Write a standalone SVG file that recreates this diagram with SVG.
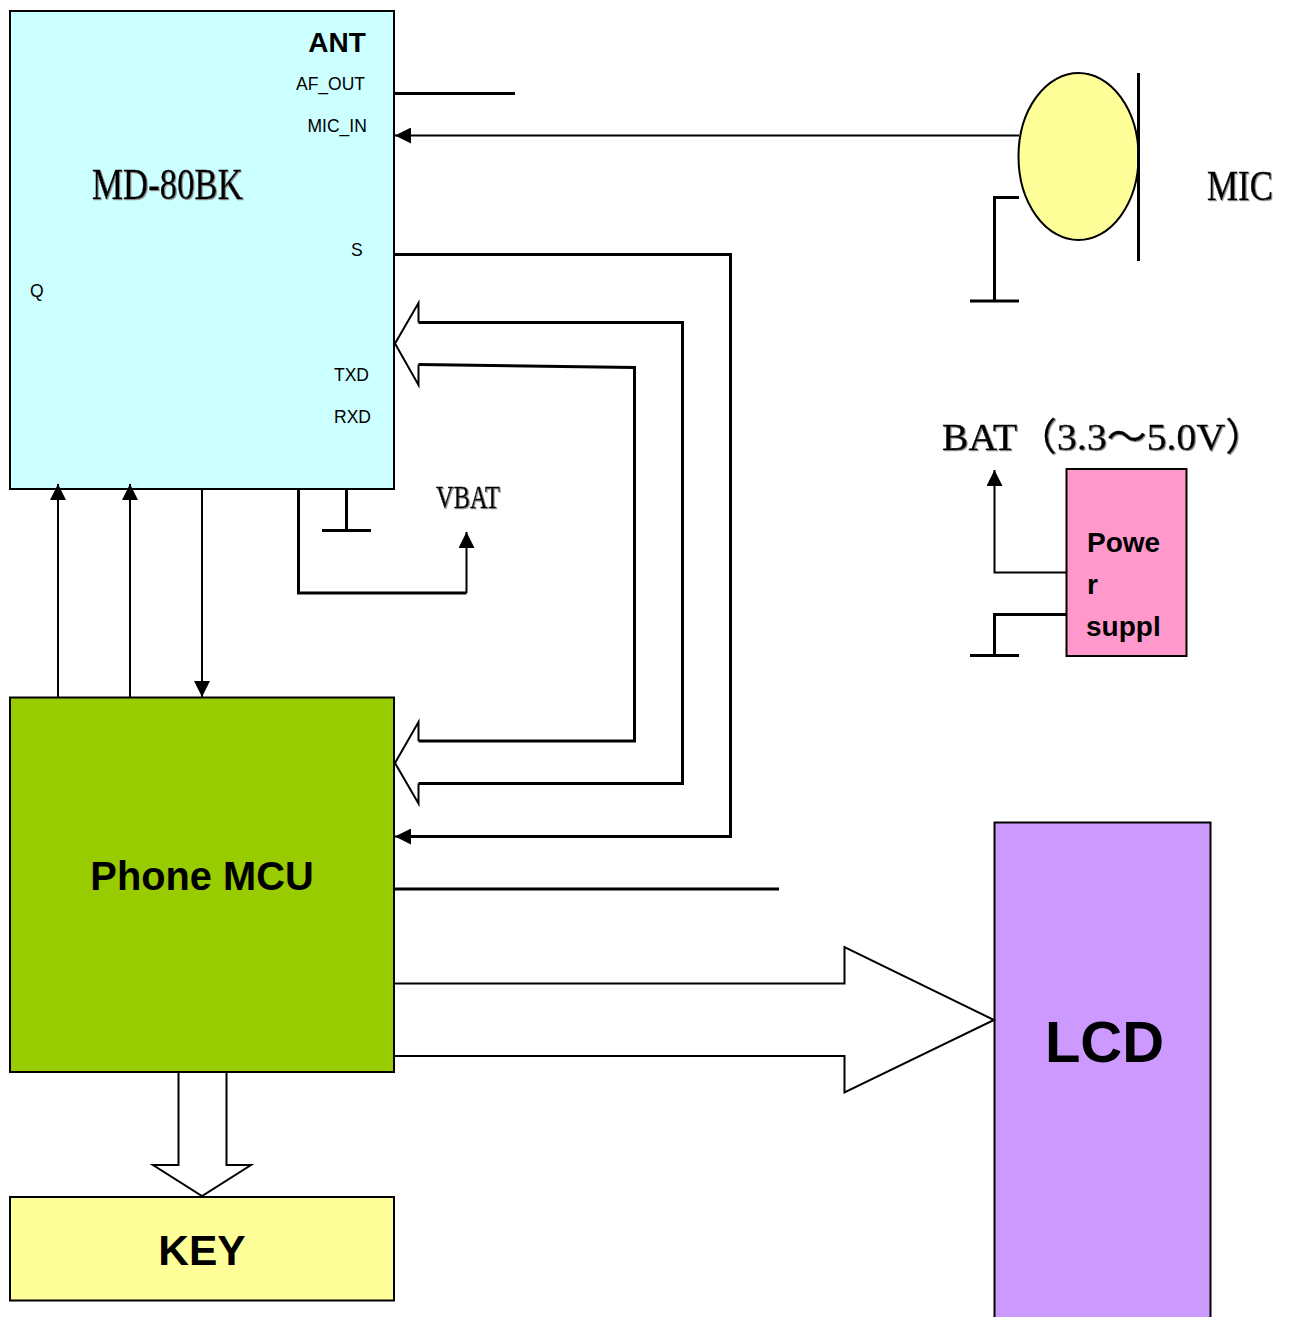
<svg xmlns="http://www.w3.org/2000/svg" width="1290" height="1317" viewBox="0 0 1290 1317">
<style>
.box{stroke:#000;stroke-width:2}
.l{fill:none;stroke:#000;stroke-width:3}
.t{fill:none;stroke:#000;stroke-width:2}
.big{fill:#fff;stroke:#000;stroke-width:2}
text{font-family:"Liberation Sans",Arial,sans-serif;fill:#000}
.b{font-weight:bold}
.s{font-size:17.500px}
.se{font-family:"Liberation Serif","Noto Sans CJK SC",serif;stroke:#000;stroke-width:.4;filter:url(#sh)}
</style>
<defs>
<filter id="sh" x="-5%" y="-10%" width="110%" height="125%"><feDropShadow dx="1" dy="1" stdDeviation="0.5" flood-color="#999"/></filter>
<marker id="a" markerUnits="userSpaceOnUse" markerWidth="16" markerHeight="16" refX="16" refY="8" orient="auto"><path d="M0 0L16 8L0 16Z" fill="#000"/></marker>
</defs>
<rect width="1290" height="1317" fill="#fff"/>
<g id="md80bk">
<rect class="box" x="10" y="11" width="384" height="478" fill="#ccffff"/>
<text class="b" x="337" y="52" font-size="28" text-anchor="middle">ANT</text>
<text class="s" x="296" y="90">AF_OUT</text>
<text class="s" x="307.500" y="132">MIC_IN</text>
<text class="s" x="351" y="256">S</text>
<text class="s" x="30" y="297">Q</text>
<text class="s" x="334" y="381">TXD</text>
<text class="s" x="334" y="423">RXD</text>
<text class="se" x="92" y="199" font-size="44" textLength="151" lengthAdjust="spacingAndGlyphs">MD-80BK</text>
</g>
<g id="mic">
<ellipse cx="1078.500" cy="156.500" rx="60" ry="83.500" fill="#ffff99" stroke="#000" stroke-width="2"/>
<path class="l" d="M1138.500 73V261"/>
<text class="se" x="1207" y="200" font-size="42" textLength="66" lengthAdjust="spacingAndGlyphs">MIC</text>
</g>
<g id="power">
<rect class="box" x="1066.500" y="469" width="120" height="187" fill="#ff99cc"/>
<text class="b" font-size="28" x="1087" y="552">Powe</text>
<text class="b" font-size="28" x="1087" y="594">r</text>
<text class="b" font-size="28" x="1086" y="636">suppl</text>
</g>
<g id="bat"><text class="se" x="942" y="450" font-size="38" textLength="323" lengthAdjust="spacingAndGlyphs">BAT（3.3～5.0V）</text></g>
<g id="vbat"><text class="se" x="436" y="508" font-size="32" textLength="64" lengthAdjust="spacingAndGlyphs">VBAT</text></g>
<g id="phone-mcu">
<rect class="box" x="10" y="697.500" width="384" height="374.500" fill="#99cc00"/>
<text class="b" x="202" y="890" font-size="39.800" text-anchor="middle">Phone MCU</text>
</g>
<g id="lcd">
<path class="box" d="M994.500 1318V822.500H1210.500V1318" fill="#cc99ff"/>
<text class="b" x="1104.500" y="1062" font-size="58" text-anchor="middle">LCD</text>
</g>
<g id="key">
<rect class="box" x="10" y="1197" width="384" height="103.500" fill="#ffff99"/>
<text class="b" x="202" y="1265" font-size="42.500" text-anchor="middle">KEY</text>
</g>
<g id="connectors">
<path class="l" d="M395 93.500H515"/>
<path class="t" d="M1019 135.500H395" marker-end="url(#a)"/>
<path class="l" d="M395 254.500H730.500V836.500H410"/>
<path d="M411 836.500H395" class="t" marker-end="url(#a)"/>
<path class="l" d="M395 889H779"/>
<path class="l" d="M1019 197.500H994.500V301M970 301H1019"/>
<path class="l" d="M346.500 490V530.500M322 530.500H371"/>
<path class="l" d="M298.500 490V593H466.500"/>
<path class="t" d="M466.500 593V532" marker-end="url(#a)"/>
<path class="t" d="M58 697V484" marker-end="url(#a)"/>
<path class="t" d="M130 697V484" marker-end="url(#a)"/>
<path class="t" d="M202 490V697" marker-end="url(#a)"/>
<path class="t" d="M1067 572.500H994.500V470" marker-end="url(#a)"/>
<path class="l" d="M1067 614.500H994.500V655M970 655.500H1019"/>
<path class="l" d="M418.500 322.500H682.500V783.500H418.500"/>
<path class="l" d="M418.500 364.500L634.500 367.500V741H418.500"/>
<path class="t" d="M418.500 322.500V303L395 343.500L418.500 385V364.500"/>
<path class="t" d="M418.500 741V722L395 763L418.500 803.500V783.500"/>
<path class="big" d="M395 983.500H844.500V947L994 1020L844.500 1092.500V1056H395"/>
<path class="big" d="M178.500 1073V1165H153L202 1196L251 1165H226.500V1073"/>
</g>
</svg>
